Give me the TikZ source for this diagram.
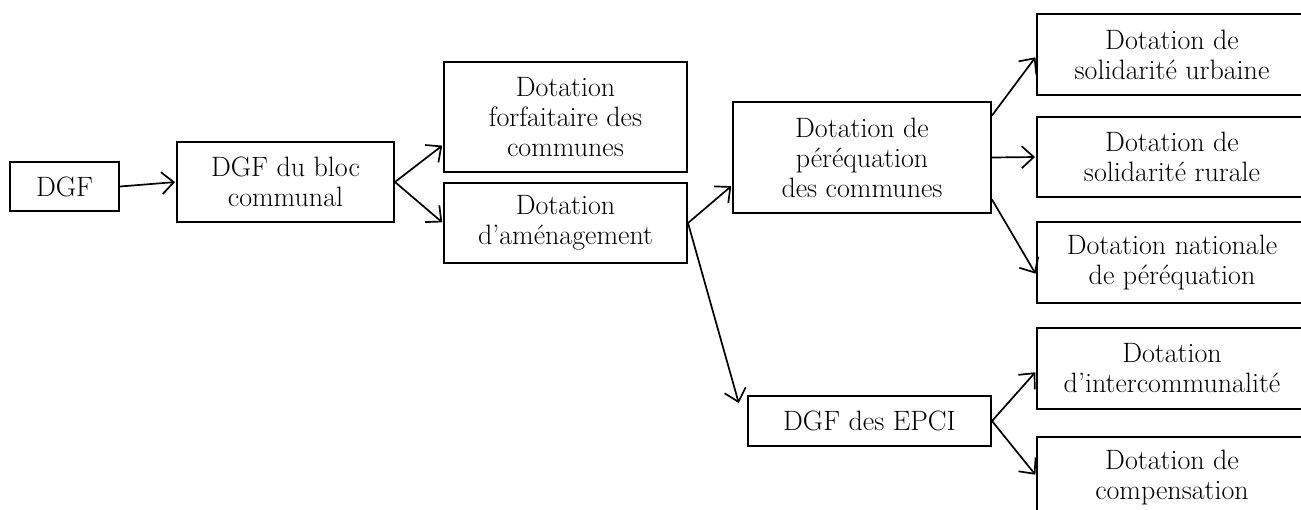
\documentclass[tikz,border=0pt]{standalone}
\usetikzlibrary{arrows.meta}
\begin{document}
\begin{tikzpicture}[x=1pt,y=-1pt,
  box/.style={draw, line width=2pt, align=center, inner sep=0pt, font=\fontsize{28}{30}\selectfont},
  arr/.style={line width=1.7pt, shorten >=1pt, -{Straight Barb[length=12pt,width=22pt]}}]
\clip (0,0) rectangle (1301,509);
\node[box, minimum width=109pt, minimum height=49pt] (dgf) at (64.5,186.5) {DGF};
\node[box, minimum width=217pt, minimum height=80pt] (bloc) at (285.5,182) {DGF du bloc\\communal};
\node[box, minimum width=243pt, minimum height=110pt] (forf) at (565.5,117) {Dotation\\forfaitaire des\\communes};
\node[box, minimum width=243pt, minimum height=80pt] (amen) at (565.5,223) {Dotation\\d’aménagement};
\node[box, minimum width=258pt, minimum height=111pt] (pereq) at (862,157.5) {Dotation de\\péréquation\\des communes};
\node[box, minimum width=243pt, minimum height=50pt] (epci) at (869.5,421) {DGF des EPCI};
\node[box, minimum width=270pt, minimum height=81pt] (urb) at (1172,54.5) {Dotation de\\solidarité urbaine};
\node[box, minimum width=270pt, minimum height=80pt] (rur) at (1172,157) {Dotation de\\solidarité rurale};
\node[box, minimum width=270pt, minimum height=81pt] (nat) at (1172,262.5) {Dotation nationale\\de péréquation};
\node[box, minimum width=270pt, minimum height=81pt] (inter) at (1172,368.5) {Dotation\\d’intercommunalité};
\node[box, minimum width=270pt, minimum height=81pt] (comp) at (1172,477.5) {Dotation de\\compensation};
\coordinate (epciin) at ([xshift=-8pt,yshift=-9pt]epci.north west);
\draw[arr] (dgf.east) -- (bloc.west);
\draw[arr] (bloc.east) -- ([yshift=-28pt]forf.west);
\draw[arr] (bloc.east) -- (amen.west);
\draw[arr] (amen.east) -- ([yshift=-28pt]pereq.west);
\draw[arr] (amen.east) -- (epciin);
\draw[arr] ([yshift=42pt]pereq.east) -- ([yshift=-2pt]urb.west);
\draw[arr] (pereq.east) -- (rur.west);
\draw[arr] ([yshift=-42pt]pereq.east) -- ([yshift=-12pt]nat.west);
\draw[arr] (epci.east) -- ([yshift=-3pt]inter.west);
\draw[arr] (epci.east) -- ([yshift=2pt]comp.west);
\end{tikzpicture}
\end{document}
